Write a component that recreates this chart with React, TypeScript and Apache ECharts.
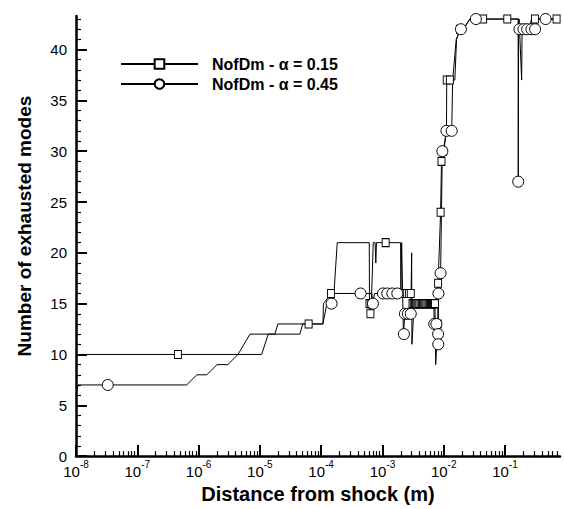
import React, { useEffect, useRef } from "react";
import * as echarts from "echarts";

// ---- axis ranges and ticks ----
const X_MIN = 1e-8;
const X_MAX = 0.79;
const Y_MIN = 0;
const Y_MAX = 43.3;
const xTickValues = [1e-8, 1e-7, 1e-6, 1e-5, 1e-4, 1e-3, 1e-2, 1e-1];
const yTickValues = [0, 5, 10, 15, 20, 25, 30, 35, 40];
const xMinorTickValues: number[] = [];
for (const d of xTickValues) {
  for (let k = 2; k <= 9; k++) {
    const v = Number((k * d).toPrecision(3));
    if (v <= X_MAX) xMinorTickValues.push(v);
  }
}
const yMinorTickValues: number[] = [];
for (let v = 1; v <= 43; v++) if (v % 5 !== 0) yMinorTickValues.push(v);

// ---- series ----
const seriesNames = ["NofDm - \u03b1 = 0.15", "NofDm - \u03b1 = 0.45"];

const s15X = [1e-8, 4.6e-7, 1.07e-5, 1.37e-5, 4.5e-5, 5.0e-5, 6.25e-5, 1.07e-4, 1.09e-4, 1.45e-4,
  1.62e-4, 1.83e-4, 6.1e-4, 6.15e-4, 6.37e-4, 6.6e-4, 7.08e-4, 7.6e-4, 7.8e-4, 8.0e-4,
  1.13e-3, 1.98e-3, 2.0e-3, 2.1e-3, 2.3e-3, 2.5e-3, 2.7e-3, 2.9e-3, 3.1e-3, 3.25e-3,
  3.4e-3, 3.55e-3, 3.7e-3, 3.85e-3, 4.0e-3, 4.2e-3, 4.4e-3, 4.6e-3, 4.8e-3, 5.0e-3,
  5.2e-3, 5.45e-3, 5.7e-3, 5.95e-3, 6.2e-3, 6.45e-3, 6.7e-3, 6.95e-3, 7.2e-3, 7.4e-3,
  8.0e-3, 8.1e-3, 8.9e-3, 9.2e-3, 9.8e-3, 1.11e-2, 1.12e-2, 1.26e-2, 1.52e-2, 1.62e-2,
  1.84e-2, 2.08e-2, 2.67e-2, 4.4e-2, 0.109, 0.17, 0.187, 0.19, 0.21, 0.25,
  0.27, 0.308, 0.695, 0.76];
const s15Y = [10, 10, 10, 12, 12, 13, 13, 13, 15, 16,
  16, 21, 21, 15, 14, 15, 21, 21, 19, 21,
  21, 21, 16, 16, 16, 16, 16, 16, 15, 15,
  15, 15, 15, 15, 15, 15, 15, 15, 15, 15,
  15, 15, 15, 15, 15, 15, 15, 15, 15, 9,
  13, 17, 24, 29, 30, 32, 37, 37, 37, 41,
  42, 42, 43, 43, 43, 43, 37, 42, 42, 42,
  43, 43, 43, 43];
const s15Marked = [0, 1, 0, 0, 0, 0, 1, 0, 0, 1,
  0, 0, 0, 1, 1, 1, 0, 0, 0, 0,
  1, 0, 0, 1, 1, 1, 1, 1, 1, 1,
  1, 1, 1, 1, 1, 1, 1, 1, 1, 1,
  1, 1, 1, 1, 1, 1, 1, 1, 1, 0,
  1, 1, 1, 1, 1, 1, 1, 1, 0, 0,
  1, 0, 0, 1, 1, 0, 0, 1, 1, 0,
  0, 1, 1, 0];

const c45X = [1e-8, 1.08e-8, 3.3e-8, 6.4e-7, 9.4e-7, 1.36e-6, 2.0e-6, 3.0e-6, 4.4e-6, 6.9e-6,
  1.76e-5, 1.97e-5, 1.07e-4, 1.24e-4, 1.48e-4, 1.62e-4, 4.4e-4, 6.7e-4, 7.0e-4, 7.4e-4,
  1.02e-3, 1.2e-3, 1.45e-3, 1.75e-3, 2.0e-3, 2.06e-3, 2.2e-3, 2.24e-3, 2.33e-3, 2.6e-3,
  2.9e-3, 3.0e-3, 3.03e-3, 3.3e-3, 6.9e-3, 7.0e-3, 7.6e-3, 8.1e-3, 8.15e-3, 8.2e-3,
  8.9e-3, 9.5e-3, 1.0e-2, 1.11e-2, 1.35e-2, 1.4e-2, 1.6e-2, 1.91e-2, 2.1e-2, 2.67e-2,
  3.35e-2, 0.164, 0.1645, 0.167, 0.172, 0.2, 0.23, 0.27, 0.31, 0.34,
  0.46, 0.76];
const c45Y = [6, 7, 7, 7, 8, 8, 9, 9, 10, 12,
  12, 13, 13, 15, 15, 16, 16, 16, 15, 16,
  16, 16, 16, 16, 16, 21, 12, 12, 14, 14,
  14, 20, 11, 15, 15, 13, 13, 12, 11, 16,
  18, 30, 30, 32, 32, 37, 41, 42, 42, 43,
  43, 43, 27, 43, 42, 42, 42, 42, 42, 43,
  43, 43];
const c45Marked = [0, 0, 1, 0, 0, 0, 0, 0, 0, 0,
  0, 0, 0, 0, 1, 0, 1, 0, 1, 0,
  1, 1, 1, 1, 0, 0, 0, 1, 1, 1,
  1, 0, 0, 0, 0, 1, 1, 1, 1, 1,
  1, 1, 0, 1, 1, 0, 0, 1, 0, 0,
  1, 0, 1, 0, 1, 1, 1, 1, 1, 0,
  1, 0];

const FONT = '"Liberation Sans", Arial, Helvetica, sans-serif';

function buildData(xs: number[], ys: number[], marks: number[], symbol: string) {
  return xs.map((x, i) => ({ value: [x, ys[i]], symbol: marks[i] ? symbol : "none" }));
}

export default function App() {
  const ref = useRef<HTMLDivElement>(null);
  useEffect(() => {
    if (!ref.current) return;
    const chart = echarts.init(ref.current, null, { renderer: "svg" });
    const option: any = {
      animation: false,
      backgroundColor: "#ffffff",
      grid: { left: 76, right: 4, top: 16, bottom: 42, containLabel: false },
      legend: {
        orient: "vertical",
        left: 115,
        top: 51,
        itemWidth: 77,
        itemHeight: 12,
        itemGap: 4,
        data: seriesNames,
        textStyle: {
          fontFamily: FONT,
          fontSize: 16,
          fontWeight: "bold",
          color: "#000",
          lineHeight: 16,
          padding: [0, 0, 0, 9],
        },
      },
      xAxis: [
        {
          type: "log",
          logBase: 10,
          min: X_MIN,
          max: X_MAX,
          name: "Distance from shock (m)",
          nameLocation: "middle",
          nameGap: 21,
          nameTextStyle: { fontFamily: FONT, fontSize: 20, fontWeight: "bold", color: "#000" },
          axisLine: { show: true, onZero: false, lineStyle: { color: "#000", width: 2.5 } },
          axisTick: { show: true, inside: true, length: 11, customValues: xTickValues, lineStyle: { color: "#000", width: 2 } },
          axisLabel: {
            show: true,
            customValues: xTickValues,
            margin: 3,
            formatter: (v: number) => "{b|10}{s|" + Math.round(Math.log10(v)) + "}",
            rich: {
              b: { fontFamily: FONT, fontSize: 15, color: "#000", lineHeight: 20, verticalAlign: "bottom" },
              s: { fontFamily: FONT, fontSize: 10, color: "#000", lineHeight: 20, verticalAlign: "top" },
            },
          },
          splitLine: { show: false },
        },
        {
          type: "log",
          logBase: 10,
          min: X_MIN,
          max: X_MAX,
          position: "bottom",
          axisLine: { show: false },
          axisTick: { show: true, inside: true, length: 5, customValues: xMinorTickValues, lineStyle: { color: "#000", width: 1.2 } },
          axisLabel: { show: false },
          splitLine: { show: false },
        },
      ],
      yAxis: [
        {
          type: "value",
          min: Y_MIN,
          max: Y_MAX,
          name: "Number of exhausted modes",
          nameLocation: "middle",
          nameGap: 42,
          nameTextStyle: { fontFamily: FONT, fontSize: 19, fontWeight: "bold", color: "#000", padding: [0, 0, 0, 20] },
          axisLine: { show: true, onZero: false, lineStyle: { color: "#000", width: 2.5 } },
          axisTick: { show: true, inside: true, length: 11, customValues: yTickValues, lineStyle: { color: "#000", width: 2 } },
          axisLabel: { show: true, customValues: yTickValues, margin: 9, fontFamily: FONT, fontSize: 15, color: "#000" },
          splitLine: { show: false },
        },
        {
          type: "value",
          min: Y_MIN,
          max: Y_MAX,
          position: "left",
          axisLine: { show: false },
          axisTick: { show: true, inside: true, length: 5, customValues: yMinorTickValues, lineStyle: { color: "#000", width: 1.2 } },
          axisLabel: { show: false },
          splitLine: { show: false },
        },
      ],
      series: [
        {
          name: seriesNames[0],
          type: "line",
          xAxisIndex: 0,
          yAxisIndex: 0,
          symbol: "rect",
          symbolSize: [7, 8],
          showSymbol: true,
          showAllSymbol: true,
          lineStyle: { color: "#000", width: 1 },
          itemStyle: { color: "#fff", borderColor: "#000", borderWidth: 1 },
          emphasis: { disabled: true },
          data: buildData(s15X, s15Y, s15Marked, "rect"),
        },
        {
          name: seriesNames[1],
          type: "line",
          xAxisIndex: 0,
          yAxisIndex: 0,
          symbol: "circle",
          symbolSize: 11,
          showSymbol: true,
          showAllSymbol: true,
          lineStyle: { color: "#000", width: 1 },
          itemStyle: { color: "#fff", borderColor: "#000", borderWidth: 1 },
          emphasis: { disabled: true },
          data: buildData(c45X, c45Y, c45Marked, "circle"),
        },
      ],
    };
    chart.setOption(option);
    return () => chart.dispose();
  }, []);
  return (
    <div
      ref={ref}
      style={{ position: "absolute", left: 0, top: 0, width: 564, height: 509, background: "#fff" }}
    />
  );
}
